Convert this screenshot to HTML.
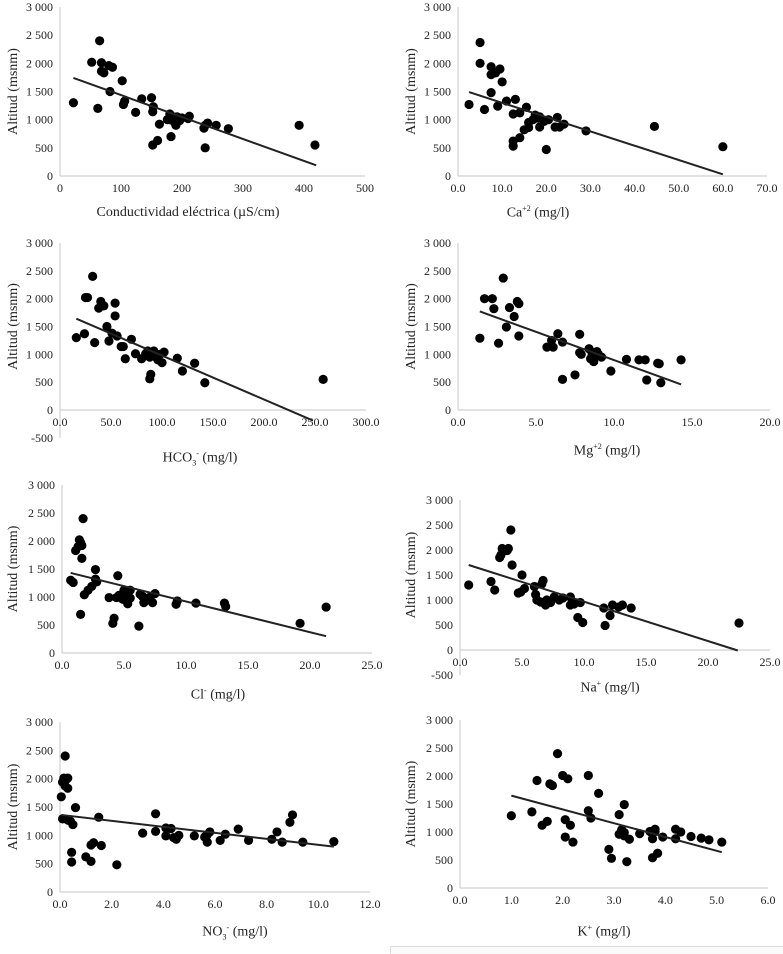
<!DOCTYPE html>
<html><head><meta charset="utf-8">
<style>
body{margin:0;background:#fff;width:783px;height:953px;overflow:hidden;position:relative;font-family:"Liberation Serif",serif;}
svg{position:absolute;left:0;top:0}
.ttl{position:absolute;font-size:14px;color:#222;transform:translateX(-50%);white-space:nowrap;line-height:1}
.ttl sub,.ttl sup{font-size:8px}
</style></head><body>
<svg id="chart" width="783" height="953"></svg>
<div class="ttl" style="left:188px;top:206px">Conductividad eléctrica (µS/cm)</div>
<div class="ttl" style="left:538px;top:205px">Ca<sup>+2</sup> (mg/l)</div>
<div class="ttl" style="left:200px;top:450px">HCO<sub>3</sub><sup>-</sup> (mg/l)</div>
<div class="ttl" style="left:607px;top:443px">Mg<sup>+2</sup> (mg/l)</div>
<div class="ttl" style="left:218px;top:687px">Cl<sup>-</sup> (mg/l)</div>
<div class="ttl" style="left:610px;top:680px">Na<sup>+</sup> (mg/l)</div>
<div class="ttl" style="left:235px;top:924px">NO<sub>3</sub><sup>-</sup> (mg/l)</div>
<div class="ttl" style="left:604px;top:924px">K<sup>+</sup> (mg/l)</div>
<div style="position:absolute;left:390px;top:946px;width:393px;height:7px;border-top:1px solid #ddd;border-left:1px solid #ddd;background:#fafafa"></div>
<script>
const ce_x=[22,52,62,65,68,68,72,80,82,86,102,104,106,124,134,150,152,153,152,160,163,176,180,180,182,186,188,190,192,196,200,210,212,236,238,238,242,256,276,392,418];
const ce_y=[1300,2020,1200,2400,2010,1860,1830,1960,1500,1930,1690,1270,1330,1130,1370,1390,1140,1230,550,630,920,1000,1100,1000,700,1050,950,900,1050,980,1030,1020,1060,850,900,500,940,900,840,900,550];
const ce_trend_x=[22,420], ce_trend_y=[1740,190];
const ca_x=[2.5,5,5,6,7.5,7.5,7.5,8.5,9,9.5,10,11,13,12.5,12.5,12.5,14,14,15,15.5,16,16,17,17.5,18,18.5,18.5,19.5,20,20.5,22,22.5,23,24,29,44.5,60];
const ca_y=[1270,2370,2000,1180,1940,1800,1480,1830,1240,1900,1670,1330,1360,1100,620,530,680,1120,820,1220,950,860,1000,1080,1030,870,1050,970,470,1000,870,1040,870,920,800,880,520];
const ca_trend_x=[2.5,60], ca_trend_y=[1490,30];
const hco3_x=[16,24,25,27,32,34,38,40,43,46,48,51,54,54,56,60,62,64,70,74,80,84,86,88,88,89,90,92,94,96,98,100,102,115,120,132,142,258];
const hco3_y=[1300,1370,2020,2020,2400,1210,1830,1950,1870,1500,1240,1380,1920,1690,1330,1140,1140,920,1270,1010,920,1010,1060,950,560,640,1000,1060,950,900,1000,850,1040,930,700,840,490,550];
const hco3_trend_x=[16,248], hco3_trend_y=[1640,-190];
const mg_x=[1.4,1.7,2.2,2.3,2.6,2.9,3.1,3.3,3.6,3.8,3.9,3.9,5.7,6,6.1,6.4,6.7,6.7,7.5,7.8,7.8,7.9,8.4,8.5,8.6,8.7,8.8,8.9,9,9.2,9.8,10.8,11.6,12,12.1,12.8,12.9,13,14.3];
const mg_y=[1290,2000,2000,1820,1200,2370,1490,1840,1680,1950,1910,1330,1130,1250,1130,1370,1220,550,630,1360,1030,1000,1100,920,1010,870,970,1050,1000,950,700,910,900,900,540,840,830,490,900];
const mg_trend_x=[1.4,14.3], mg_trend_y=[1770,460];
const cl_x=[0.7,0.9,1.1,1.3,1.4,1.5,1.6,1.5,1.6,1.7,1.8,2.1,2.4,2.7,2.7,2.8,3.8,4.1,4.2,4.4,4.5,4.6,4.9,5.0,5.1,5.3,5.5,5.5,6.2,6.3,6.5,6.6,7.1,7.3,7.5,9.2,9.3,10.8,13.1,13.2,19.2,21.3];
const cl_y=[1300,1260,1830,1900,2020,1970,1920,690,1690,2400,1040,1120,1190,1490,1320,1270,990,530,620,990,1380,1030,960,1120,1020,880,980,1120,480,1050,1010,900,1000,900,1060,870,930,890,890,830,530,820];
const cl_trend_x=[0.7,21.3], cl_trend_y=[1430,300];
const na_x=[0.7,2.5,2.8,3.2,3.3,3.4,3.8,3.9,4.1,4.2,4.7,4.9,5.0,5.2,6.0,6.1,6.2,6.6,6.7,6.5,6.9,7.0,7.3,7.6,8.0,8.3,8.9,8.9,9.2,9.5,9.7,9.9,11.6,11.7,12.1,12.3,12.8,13.1,13.8,22.5];
const na_y=[1300,1370,1200,1850,1900,2030,1990,2030,2400,1700,1140,1160,1500,1230,1270,1110,1000,1320,1390,960,900,1000,950,1060,1000,1040,1060,900,920,650,950,550,840,490,690,900,860,900,840,540];
const na_trend_x=[0.7,22.4], na_trend_y=[1700,-10];
const no3_x=[0.05,0.1,0.1,0.15,0.2,0.2,0.25,0.3,0.3,0.3,0.4,0.45,0.45,0.5,0.6,1.0,1.2,1.2,1.3,1.5,1.6,2.2,3.2,3.7,3.7,4.1,4.1,4.3,4.4,4.5,4.6,5.2,5.6,5.7,5.7,5.8,6.2,6.4,6.9,7.3,8.2,8.4,8.6,8.9,9.0,9.4,10.6];
const no3_y=[1680,1290,1940,2010,1870,2400,1990,2010,1830,1270,1250,700,530,1190,1490,620,540,830,870,1320,820,480,1040,1380,1070,1130,990,1120,960,930,1000,990,970,1010,880,1060,910,1020,1110,910,930,1060,880,1230,1360,880,890];
const no3_trend_x=[0.05,10.6], no3_trend_y=[1360,800];
const k_x=[1.0,1.4,1.5,1.6,1.7,1.75,1.8,1.9,2.0,2.05,2.05,2.1,2.15,2.2,2.5,2.5,2.55,2.7,2.9,2.95,3.1,3.1,3.15,3.2,3.2,3.2,3.25,3.3,3.5,3.7,3.75,3.75,3.8,3.8,3.85,3.95,4.2,4.2,4.3,4.5,4.7,4.85,5.1];
const k_y=[1290,1360,1920,1120,1190,1860,1830,2400,2010,910,1220,1950,1120,820,2010,1380,1250,1690,690,530,1310,960,1040,1490,990,930,470,870,970,1010,880,540,1050,1010,620,910,1050,880,1000,920,890,860,820];
const k_trend_x=[1.0,5.1], k_trend_y=[1650,640];
const y_ticks=[3000,2500,2000,1500,1000,500,0,-500];
const y_tick_labels=["3 000","2 500","2 000","1 500","1 000","500","0","-500"];

const NS="http://www.w3.org/2000/svg";
const svg=document.getElementById('chart');
function mk(tag,attrs,parent){const e=document.createElementNS(NS,tag);for(const k in attrs)e.setAttribute(k,attrs[k]);(parent||svg).appendChild(e);return e;}

const panels=[
 {id:'ce',xs:ce_x,ys:ce_y,tx:ce_trend_x,ty:ce_trend_y,xmax:500,step:100,dec:0,px0:60,px1:365,py3:7,py0:176,ymin:0,ylx:14},
 {id:'ca',xs:ca_x,ys:ca_y,tx:ca_trend_x,ty:ca_trend_y,xmax:70,step:10,dec:1,px0:458,px1:767,py3:7,py0:176,ymin:0,ylx:412},
 {id:'hco3',xs:hco3_x,ys:hco3_y,tx:hco3_trend_x,ty:hco3_trend_y,xmax:300,step:50,dec:1,px0:60,px1:366,py3:243,py0:410,ymin:-500,ylx:14},
 {id:'mg',xs:mg_x,ys:mg_y,tx:mg_trend_x,ty:mg_trend_y,xmax:20,step:5,dec:1,px0:458,px1:770,py3:243,py0:410,ymin:0,ylx:412},
 {id:'cl',xs:cl_x,ys:cl_y,tx:cl_trend_x,ty:cl_trend_y,xmax:25,step:5,dec:1,px0:62,px1:372,py3:485,py0:653,ymin:0,ylx:14},
 {id:'na',xs:na_x,ys:na_y,tx:na_trend_x,ty:na_trend_y,xmax:25,step:5,dec:1,px0:460,px1:770,py3:500,py0:650,ymin:-500,ylx:412},
 {id:'no3',xs:no3_x,ys:no3_y,tx:no3_trend_x,ty:no3_trend_y,xmax:12,step:2,dec:1,px0:60,px1:370,py3:722,py0:892,ymin:0,ylx:14},
 {id:'k',xs:k_x,ys:k_y,tx:k_trend_x,ty:k_trend_y,xmax:6,step:1,dec:1,px0:460,px1:768,py3:720,py0:888,ymin:0,ylx:412}
];

panels.forEach(p=>{
 const X=v=>p.px0+(v/p.xmax)*(p.px1-p.px0);
 const Y=v=>p.py0-(v/3000)*(p.py0-p.py3);
 const g=mk('g',{});
 
 
 const ya=mk('line',{x1:p.px0,x2:p.px0,y1:Y(3000),y2:Y(p.ymin),stroke:'#d0d0d0','stroke-width':1.2},g);
 
 
 const xa=mk('line',{x1:p.px0,x2:p.px1,y1:Y(0),y2:Y(0),stroke:'#d0d0d0','stroke-width':1.2},g);
 
 
 y_ticks.forEach((t,i)=>{
  if(t<p.ymin)return;
  const tl=mk('text',{x:p.px0-7,y:Y(t)+4,'text-anchor':'end','font-size':12,fill:'#222','font-family':'Liberation Serif, serif'},g);
  tl.textContent=y_tick_labels[i];
  
  
 });
 for(let v=0;v<=p.xmax+1e-9;v+=p.step){
  const tl=mk('text',{x:X(v),y:Y(0)+16,'text-anchor':'middle','font-size':12,fill:'#222','font-family':'Liberation Serif, serif'},g);
  tl.textContent=v.toFixed(p.dec);
  
  
 }
 const cy=(Y(3000)+Y(0))/2;
 const yl=mk('text',{x:p.ylx,y:cy,'text-anchor':'middle','font-size':14,fill:'#222','font-family':'Liberation Serif, serif',transform:`rotate(-90 ${p.ylx} ${cy})`,'dominant-baseline':'middle'},g);
 yl.textContent='Altitud (msnm)';
 
 
 p.xs.forEach((xv,i)=>{
  const c=mk('circle',{cx:X(xv),cy:Y(p.ys[i]),r:4.6,fill:'#000'},g);
  
  
 });
 const tr=mk('line',{x1:X(p.tx[0]),y1:Y(p.ty[0]),x2:X(p.tx[1]),y2:Y(p.ty[1]),stroke:'#222','stroke-width':2},g);
 
 
});
</script>
</body></html>
